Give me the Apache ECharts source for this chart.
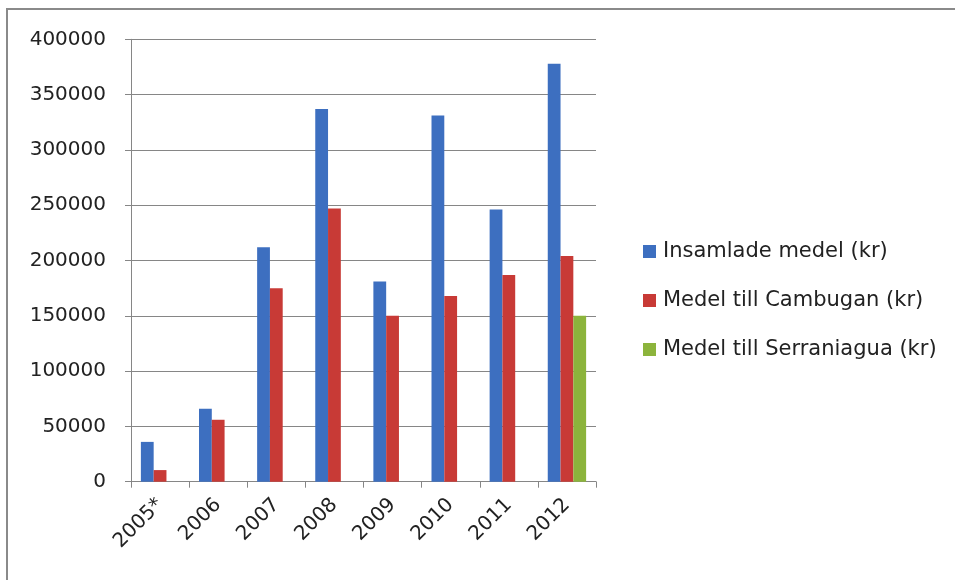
<!DOCTYPE html>
<html>
<head>
<meta charset="utf-8">
<script src="https://cdn.jsdelivr.net/npm/echarts@6/dist/echarts.min.js"></script>
<style>
html,body{margin:0;padding:0;background:#fff;}
#chart{width:955px;height:580px;}
</style>
</head>
<body>
<div id="chart"></div>
<script>
var categories = ['2005*', '2006', '2007', '2008', '2009', '2010', '2011', '2012'];
var insamlade = [36000, 66000, 212000, 337000, 181000, 331000, 246000, 378000];
var cambugan = [10500, 56000, 175000, 247000, 150000, 168000, 187000, 204000];
var serraniagua = [null, null, null, null, null, null, null, 150000];
var seriesNames = ['Insamlade medel (kr)', 'Medel till Cambugan (kr)', 'Medel till Serraniagua (kr)'];

var font = 'DejaVu Sans';
var chart = echarts.init(document.getElementById('chart'));
chart.setOption({
  animation: false,
  backgroundColor: '#fff',
  color: ['#3d6fc0', '#c83a36', '#8cb43c'],
  graphic: [{
    type: 'rect',
    shape: {x: 7, y: 9, width: 1100, height: 700},
    style: {fill: 'none', stroke: '#8a8a8a', lineWidth: 2},
    silent: true
  }],
  grid: {left: 131, right: 359, top: 39.3, bottom: 98.3, containLabel: false},
  legend: {
    orient: 'vertical',
    left: 638,
    top: 236,
    itemWidth: 13,
    itemHeight: 13,
    itemGap: 28,
    icon: 'rect',
    textStyle: {fontFamily: font, fontSize: 21, color: '#222', padding: [0, 0, 0, 2]},
    data: seriesNames
  },
  xAxis: {
    type: 'category',
    data: categories,
    boundaryGap: true,
    axisLine: {lineStyle: {color: '#868686', width: 1}},
    axisTick: {show: true, length: 6, inside: false, lineStyle: {color: '#868686'}},
    axisLabel: {rotate: 45, margin: 20, fontFamily: font, fontSize: 20, color: '#222'}
  },
  yAxis: {
    type: 'value',
    min: 0,
    max: 400000,
    interval: 50000,
    axisLine: {show: true, lineStyle: {color: '#868686', width: 1}},
    axisTick: {show: true, length: 6, lineStyle: {color: '#868686'}},
    splitLine: {lineStyle: {color: '#868686', width: 1}},
    axisLabel: {margin: 25, fontFamily: font, fontSize: 20, color: '#222',
      formatter: function (v) { return String(v); }}
  },
  series: [
    {name: seriesNames[0], type: 'bar', data: insamlade, barGap: '0%', barCategoryGap: '34%'},
    {name: seriesNames[1], type: 'bar', data: cambugan, barGap: '0%', barCategoryGap: '34%'},
    {name: seriesNames[2], type: 'bar', data: serraniagua, barGap: '0%', barCategoryGap: '34%'}
  ]
});
</script>
</body>
</html>
